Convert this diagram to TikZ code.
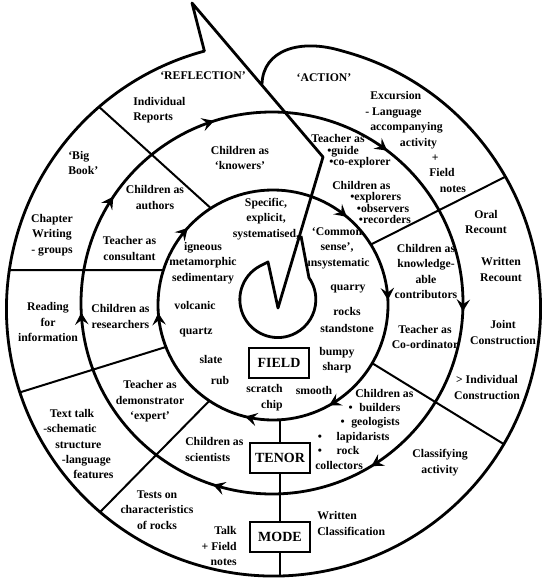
\documentclass[tikz,border=0pt]{standalone}
\usepackage{fontspec}
\setmainfont{Liberation Serif}
\usetikzlibrary{arrows.meta,decorations.markings}

\begin{document}
\lineskiplimit=-10pt
\begin{tikzpicture}[
  x=0.75pt, y=-0.75pt,
  font=\fontsize{8.8}{11.6}\selectfont\bfseries,
  txt/.style={inner sep=0pt, align=center},
  lft/.style={inner sep=0pt, align=left, anchor=west},
  rgt/.style={inner sep=0pt, align=right, anchor=east},
  tight/.style={lft, font=\fontsize{8.8}{#1}\selectfont\bfseries},
  box/.style={draw, line width=1.3pt, minimum width=45pt, minimum height=22.5pt,
    inner sep=0pt, font=\fontsize{10.5}{12}\selectfont\bfseries},
  spiral/.style={line width=2.1pt, line join=round},
  divider/.style={line width=1.5pt},
  ringtip/.tip={Stealth[length=9pt, width=10pt, inset=3.5pt]},
  arr at/.style={postaction={decorate, decoration={markings,
    mark=at position #1 with {\arrow{ringtip}}}}}
]
\useasboundingbox (0,0) rectangle (543,584);

\coordinate (o)  at (273.5,309); % centre of the outer turn
\coordinate (ri) at (273,305);   % centre of the inner ring

% outer spiral: 'ACTION' hook, one turn, arrow head, down into the bulb
\draw[spiral] (262,84) .. controls (263,50) and (300,38) .. ([shift={(285:267)}]o)
  arc[start angle=285, end angle=615, radius=267]
  -- (192,3) -- (323,157) -- (278,308) -- (268,262) -- (260,266)
  arc[start angle=242, end angle=-35, radius=38] -- (301,236);

% rings
\draw[spiral, arr at/.list={0.169,0.289,0.489,0.617,0.861,0.993}]
  (ri) circle[radius=115];
\draw[spiral, arr at/.list={0.007,0.163,0.3,0.492,0.594,0.701,0.853}]
  (272,303) circle[radius=191];

% dividers
\draw[divider] ([shift={(229.2:267)}]o) -- ([shift={(237.3:115)}]ri);
\draw[divider] ([shift={(188.4:267)}]o) -- ([shift={(197.7:115)}]ri);
\draw[divider] ([shift={(161.8:267)}]o) -- ([shift={(158.6:115)}]ri);
\draw[divider] ([shift={(130.5:267)}]o) -- ([shift={(123.6:115)}]ri);
\draw[divider] ([shift={(30.4:115)}]ri) -- ([shift={(30.4:267)}]o);
\draw[divider] ([shift={(-31.7:115)}]ri) -- ([shift={(-29.7:267)}]o);

% field / tenor / mode
\node[box] (field) at (279,363) {FIELD};
\node[box] (tenor) at (280,458) {TENOR};
\node[box] (mode)  at (280,537) {MODE};
\coordinate (ringbot) at (280,419.8);
\coordinate (bot) at (280,575.9);
\draw[divider] (ringbot) -- (tenor);
\draw[divider] (tenor) -- (mode);
\draw[divider] (mode) -- (bot);

% outer band
\node[txt] (refl) at (203,76) {`REFLECTION'};
\node[txt] (act)  at (324,78) {`ACTION'};
\node[lft] (exc) at (365,142) {\hspace*{3.8pt}Excursion\\- Language\\\hspace*{3.8pt}accompanying\\
  \hspace*{26pt}activity\\\hspace*{50pt}+\\\hspace*{48pt}Field\\\hspace*{56pt}notes};
\node[lft] (indiv) at (133,110) {Individual\\Reports};
\node[lft] (bigbook) at (68,163) {`Big\\Book'};
\node[txt] (chapter) at (52,235) {Chapter\\Writing\\- groups};
\node[txt] (reading) at (48,322) {Reading\\for\\information};
\node[lft] (texttalk) at (43,444) {\hspace*{5pt}Text talk\\-schematic\\\hspace*{9pt}structure\\
  \hspace*{14pt}-language\\\hspace*{22.5pt}features};
\node[txt] (tests) at (157,510) {Tests on\\characteristics\\of rocks};
\node[rgt] (talk) at (237,546) {Talk\\+ Field\\notes};
\node[lft] (writcl) at (317,523.5) {Written\\Classification};
\node[txt] (classif) at (440,462.5) {Classifying\\activity};
\node[txt] (indcons) at (487,387.5) {> Individual\\Construction};
\node[txt] (joint) at (503,332.5) {Joint\\Construction};
\node[txt] (writrec) at (501,269.5) {Written\\Recount};
\node[txt] (oral) at (486,222) {Oral\\Recount};

% middle band
\node[txt] (knowers) at (240,158) {Children as\\`knowers'};
\node[txt] (authors) at (155,197.5) {Children as\\authors};
\node[txt] (consult) at (129.5,248.5) {Teacher as\\consultant};
\node[txt] (research) at (120.5,316.5) {Children as\\researchers};
\node[txt] (demo) at (150,401.5) {Teacher as\\demonstrator\\`expert'};
\node[lft] (scient) at (185,449.5) {Children as\\scientists};
\node[tight=10.8pt] (builders) at (315,429) {\hspace*{30pt}Children as\\
  \hspace*{25pt}•\hspace{5pt}builders\\\hspace*{19pt}•\hspace{5pt}geologists\\
  \hspace*{2pt}•\hspace{11pt}lapidarists\\\hspace*{2pt}•\hspace{11pt}rock\\collectors};
\node[txt] (coord) at (425,337) {Teacher as\\Co-ordinator};
\node[txt] (contrib) at (426,271.5) {Children as\\knowledge-\\able\\contributors};
\node[tight=8.4pt] (explor) at (332,202.5) {Children as\\\hspace*{13.5pt}•explorers\\
  \hspace*{18.5pt}•observers\\\hspace*{20pt}•recorders};
\node[tight=8.6pt] (guide) at (311,151.5) {Teacher as\\\hspace*{12pt}•guide\\\hspace*{13.5pt}•co-explorer};

% inner disc
\node[txt] (specific) at (266,219) {Specific,\\explicit,\\systematised,};
\node[txt] (common) at (337,248) {`Common\\sense',\\unsystematic};
\node[txt] (igneous) at (203,263) {igneous\\metamorphic\\sedimentary};
\node[txt] (volcanic) at (195,305) {volcanic};
\node[txt] (quartz) at (196,332) {quartz};
\node[txt] (slate) at (211,359) {slate};
\node[txt] (rub) at (220,380) {rub};
\node[rgt] (scratch) at (283,397.5) {scratch\\chip};
\node[txt] (smooth) at (314,390) {smooth};
\node[txt] (bumpy) at (337,360) {bumpy\\sharp};
\node[txt] (quarry) at (348,289) {quarry};
\node[txt] (rocks) at (347,311) {rocks};
\node[txt] (standst) at (347,328) {standstone};

\end{tikzpicture}
\end{document}
